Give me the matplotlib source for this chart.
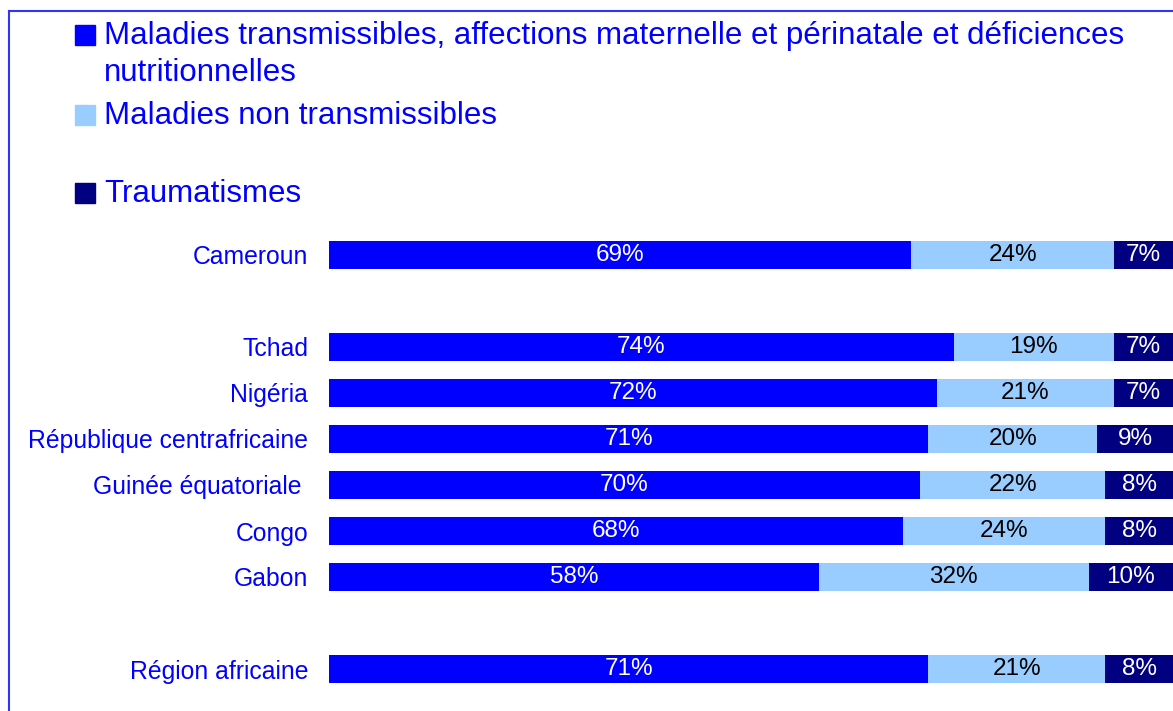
import matplotlib
matplotlib.use("Agg")
import matplotlib.pyplot as plt
from matplotlib.patches import Rectangle
from matplotlib.lines import Line2D

plt.rcParams['font.family'] = ['Liberation Sans', 'DejaVu Sans']

# data
pays = ["Cameroun", "Tchad", "Nigéria", "République centrafricaine",
        "Guinée équatoriale ", "Congo", "Gabon", "Région africaine"]
slots = [0, 2, 3, 4, 5, 6, 7, 9]  # empty rows between groups
transmissibles = [69, 74, 72, 71, 70, 68, 58, 71]
non_transmissibles = [24, 19, 21, 20, 22, 24, 32, 21]
traumatismes = [7, 7, 7, 9, 8, 8, 10, 8]

series = [
    (["Maladies transmissibles, affections maternelle et périnatale et déficiences",
      "nutritionnelles"], transmissibles, "#0000FF", "white"),
    (["Maladies non transmissibles"], non_transmissibles, "#99CCFF", "black"),
    (["Traumatismes"], traumatismes, "#000080", "white"),
]

W, H = 1173, 711
fig = plt.figure(figsize=(W / 100, H / 100), dpi=100)

ax = fig.add_axes([329 / W, (H - 692) / H, (W - 329) / W, (692 - 232) / H])
left = [0] * len(pays)
for name, vals, col, tcol in series:
    ax.barh(slots, vals, left=left, height=0.6, color=col, edgecolor="none")
    for s, l, v in zip(slots, left, vals):
        ax.text(l + v / 2, s, f"{v}%", ha="center", va="center",
                color=tcol, fontsize=17.5)
    left = [l + v for l, v in zip(left, vals)]

ax.set_xlim(0, 100)
ax.set_ylim(9.5, -0.5)
ax.set_yticks(slots)
ax.set_yticklabels(pays, fontsize=17.8, color="#0000FF")
ax.tick_params(axis="y", length=0, pad=15)
ax.set_xticks([])
for sp in ax.spines.values():
    sp.set_visible(False)

# legend, drawn by hand to follow the original layout
box_top = [25, 105, 183]
baselines = [[44, 81], [124], [202]]
for (lines, vals, col, tcol), bt, bl in zip(series, box_top, baselines):
    fig.patches.append(Rectangle((75 / W, 1 - (bt + 20) / H), 20 / W, 20 / H,
                                 transform=fig.transFigure, color=col))
    for txt, y in zip(lines, bl):
        fig.text(104 / W, 1 - y / H, txt, ha="left", va="baseline",
                 fontsize=22.5, color="#0000FF")

# frame lines top and left
fig.add_artist(Line2D([8.5 / W, 8.5 / W], [0, 1 - 11 / H], color="#3333FF",
                      lw=1.5, transform=fig.transFigure))
fig.add_artist(Line2D([8.5 / W, 1], [1 - 11 / H, 1 - 11 / H], color="#3333FF",
                      lw=1.5, transform=fig.transFigure))

fig.savefig("out.png", dpi=100)
